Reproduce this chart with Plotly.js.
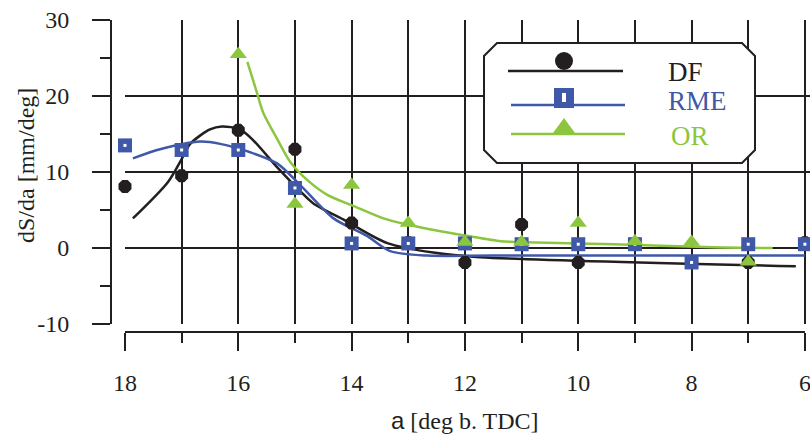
<!DOCTYPE html>
<html>
<head>
<meta charset="utf-8">
<script src="https://cdn.plot.ly/plotly-3.0.1.min.js"></script>
<style>html,body{margin:0;padding:0;background:#fff;}#chart{width:810px;height:435px;}</style>
</head>
<body>
<div id="chart"></div>
<script>
// ---- data ----
const dfX  = [18, 17, 16, 15, 14, 13, 12, 11, 10, 9, 8, 7, 6];
const dfY  = [8.1, 9.5, 15.5, 13.0, 3.3, 0.7, -1.9, 3.1, -1.9, 0.6, -1.9, -1.9, 0.7];
const rmeX = [18, 17, 16, 15, 14, 13, 12, 11, 10, 9, 8, 7, 6];
const rmeY = [13.5, 12.9, 12.9, 7.9, 0.6, 0.6, 0.6, 0.5, 0.5, 0.5, -1.9, 0.5, 0.5];
const orX  = [16, 15, 14, 13, 12, 11, 10, 9, 8, 7];
const orY  = [25.5, 5.8, 8.3, 3.3, 0.8, 0.8, 3.3, 0.9, 0.8, -1.8];

const dfFitX  = [17.86, 17.24, 17.0, 16.85, 16.5, 16.29, 15.97, 15.74, 15.3, 14.91, 14.68, 14.11, 13.37, 12.56, 11.73, 6.16];
const dfFitY  = [3.9, 8.7, 11.7, 13.7, 15.6, 16.0, 15.6, 14.2, 10.5, 7.5, 5.9, 3.6, 0.65, -0.6, -1.2, -2.4];
const rmeFitX = [17.86, 17.38, 16.67, 16.32, 15.79, 15.31, 14.91, 14.32, 13.73, 13.32, 12.66, 11.5, 6.0];
const rmeFitY = [11.8, 13.0, 14.0, 13.7, 12.6, 11.1, 8.3, 3.9, 1.6, -0.4, -1.0, -1.0, -1.0];
const orFitX  = [15.84, 15.67, 15.56, 15.31, 15.08, 14.76, 14.43, 13.99, 13.44, 13.02, 12.43, 11.96, 11.37, 11.14, 9.38, 7.61, 6.57];
const orFitY  = [24.5, 20.4, 17.8, 14.3, 11.3, 8.8, 7.0, 5.6, 3.9, 3.1, 2.2, 1.6, 0.9, 0.8, 0.5, 0.1, 0.0];

const xTicks = [18, 16, 14, 12, 10, 8, 6];
const yTicks = [-10, 0, 10, 20, 30];
const seriesNames = ['DF', 'RME', 'OR'];
const xTitle = '<span style="font-family:Liberation Sans">a</span> [deg b. TDC]';
const yTitle = 'dS/da [mm/deg]';

// ---- styles ----
const black = '#231f20', blue = '#3f58a8', green = '#8cc63f';
const serif = 'Liberation Serif';

const traces = [
  {x: dfFitX, y: dfFitY, mode: 'lines', line: {color: black, width: 2.5, shape: 'spline', smoothing: 0.8}, hoverinfo: 'skip'},
  {x: rmeFitX, y: rmeFitY, mode: 'lines', line: {color: blue, width: 2.5, shape: 'spline', smoothing: 0.8}, hoverinfo: 'skip'},
  {x: orFitX, y: orFitY, mode: 'lines', line: {color: green, width: 2.5, shape: 'spline', smoothing: 0.8}, hoverinfo: 'skip'},
  {x: dfX, y: dfY, name: seriesNames[0], mode: 'markers', cliponaxis: false, marker: {symbol: 'octagon', size: 14, color: black}},
  {x: rmeX, y: rmeY, name: seriesNames[1], mode: 'markers', cliponaxis: false, marker: {symbol: 'square', size: 14, color: blue}},
  {x: rmeX, y: rmeY, mode: 'markers', cliponaxis: false, marker: {symbol: 'square', size: 3, color: '#ffffff'}, hoverinfo: 'skip'},
  {x: orX, y: orY, name: seriesNames[2], mode: 'markers', cliponaxis: false, marker: {symbol: 'triangle-up', size: 15, color: green}}
];

// pixel -> paper helpers (plot area: left 111, right 810, top 20, bottom 332)
const PX = p => (p - 111) / 699;
const PY = p => (332 - p) / 312;

function boxPath(x0, y0, x1, y1, c) {
  const pts = [[x0 + c, y0], [x1 - c, y0], [x1, y0 + c], [x1, y1 - c], [x1 - c, y1], [x0 + c, y1], [x0, y1 - c], [x0, y0 + c]];
  return 'M' + pts.map(p => PX(p[0]).toFixed(5) + ',' + PY(p[1]).toFixed(5)).join(' L') + ' Z';
}
function triPath(cx, base, top, half) {
  return 'M' + PX(cx - half) + ',' + PY(base) + ' L' + PX(cx + half) + ',' + PY(base) + ' L' + PX(cx) + ',' + PY(top) + ' Z';
}

const shapes = [
  {type: 'line', xref: 'x', yref: 'paper', x0: 18, x1: 6, y0: 0, y1: 0, line: {color: black, width: 2}},
  {type: 'path', xref: 'paper', yref: 'paper', path: boxPath(484, 43, 755, 163, 13), fillcolor: '#ffffff', line: {color: black, width: 2}, layer: 'above'},
  {type: 'line', xref: 'paper', yref: 'paper', x0: PX(508), x1: PX(623), y0: PY(71), y1: PY(71), line: {color: black, width: 2.5}, layer: 'above'},
  {type: 'circle', xref: 'paper', yref: 'paper', x0: PX(555), x1: PX(573), y0: PY(52), y1: PY(70), fillcolor: black, line: {width: 0}, layer: 'above'},
  {type: 'line', xref: 'paper', yref: 'paper', x0: PX(511), x1: PX(625), y0: PY(105), y1: PY(105), line: {color: blue, width: 2.5}, layer: 'above'},
  {type: 'rect', xref: 'paper', yref: 'paper', x0: PX(554), x1: PX(574), y0: PY(88), y1: PY(108), fillcolor: blue, line: {width: 0}, layer: 'above'},
  {type: 'rect', xref: 'paper', yref: 'paper', x0: PX(562), x1: PX(566), y0: PY(93), y1: PY(102), fillcolor: '#ffffff', line: {width: 0}, layer: 'above'},
  {type: 'line', xref: 'paper', yref: 'paper', x0: PX(511), x1: PX(625), y0: PY(134), y1: PY(134), line: {color: green, width: 2.5}, layer: 'above'},
  {type: 'path', xref: 'paper', yref: 'paper', path: triPath(564, 133, 118, 11), fillcolor: green, line: {width: 0}, layer: 'above'}
];

const annotations = [
  {xref: 'paper', yref: 'paper', x: PX(666), y: PY(72), xanchor: 'left', yanchor: 'middle', text: seriesNames[0], showarrow: false, font: {family: serif, size: 27, color: black}},
  {xref: 'paper', yref: 'paper', x: PX(666), y: PY(101), xanchor: 'left', yanchor: 'middle', text: seriesNames[1], showarrow: false, font: {family: serif, size: 27, color: blue}},
  {xref: 'paper', yref: 'paper', x: PX(669), y: PY(136), xanchor: 'left', yanchor: 'middle', text: seriesNames[2], showarrow: false, font: {family: serif, size: 27, color: green}},
  {xref: 'paper', yref: 'paper', x: PX(465), y: PY(421), xanchor: 'center', yanchor: 'middle', text: xTitle, showarrow: false, font: {family: serif, size: 24, color: black}},
  {xref: 'paper', yref: 'paper', x: PX(26), y: PY(166), xanchor: 'center', yanchor: 'middle', textangle: -90, text: yTitle, showarrow: false, font: {family: serif, size: 24, color: black}}
];

const layout = {
  width: 810, height: 435,
  margin: {l: 111, r: 0, t: 20, b: 103, pad: 0},
  paper_bgcolor: '#ffffff', plot_bgcolor: 'rgba(0,0,0,0)',
  showlegend: false,
  font: {family: serif, color: black},
  xaxis: {
    range: [18, 5.91], domain: [0.02, 1], anchor: 'free', position: 0,
    tickvals: xTicks, ticktext: xTicks.map(String),
    ticks: 'outside', ticklen: 18, tickwidth: 2, tickcolor: black,
    ticklabelstandoff: 11, ticklabeloverflow: 'allow',
    showline: false, zeroline: false,
    showgrid: true, gridcolor: black, gridwidth: 2,
    minor: {dtick: 1, tick0: 0, ticks: 'outside', ticklen: 10, tickwidth: 2, tickcolor: black, showgrid: true, gridcolor: black, gridwidth: 2},
    tickfont: {family: serif, size: 24, color: black}
  },
  yaxis: {
    range: [-10, 30], domain: [0.0256, 1], anchor: 'free', position: 0,
    tickvals: yTicks, ticktext: yTicks.map(String),
    ticks: 'outside', ticklen: 18, tickwidth: 2, tickcolor: black,
    ticklabelstandoff: 18,
    showline: true, linecolor: black, linewidth: 2, zeroline: false,
    showgrid: true, gridcolor: black, gridwidth: 2,
    minor: {dtick: 5, tick0: 0, ticks: 'outside', ticklen: 10, tickwidth: 2, tickcolor: black, showgrid: false},
    tickfont: {family: serif, size: 24, color: black}
  },
  shapes: shapes,
  annotations: annotations
};

Plotly.newPlot('chart', traces, layout, {staticPlot: true, displayModeBar: false});
</script>
</body>
</html>
